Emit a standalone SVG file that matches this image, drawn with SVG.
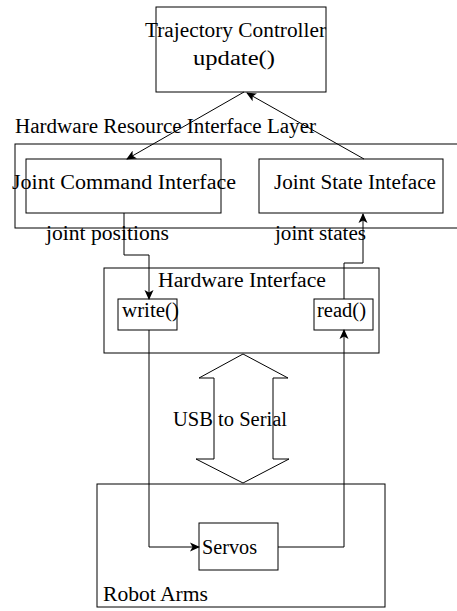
<svg xmlns="http://www.w3.org/2000/svg" width="457" height="611" viewBox="0 0 457 611">
<style>
.box{fill:#fff;stroke:#000;stroke-width:1}
.t{font-family:"Liberation Serif","DejaVu Serif",serif;font-size:20px;fill:#000}
.c{fill:none;stroke:#000;stroke-width:1}
</style>
<defs>
<marker id="ah" viewBox="0 0 10 10" refX="9" refY="5" markerWidth="10" markerHeight="10" markerUnits="userSpaceOnUse" orient="auto">
<path d="M0,0.5 L10,5 L0,9.5 L2.5,5 Z" fill="#000"/>
</marker>
</defs>
<rect width="457" height="611" fill="#fff"/>
<g id="trajectory-controller">
<rect class="box" x="156" y="7" width="170" height="85"/>
<text class="t" x="145" y="37" textLength="181" lengthAdjust="spacingAndGlyphs">Trajectory Controller</text>
<text class="t" x="193" y="65" textLength="82" lengthAdjust="spacingAndGlyphs">update()</text>
</g>
<g id="hardware-resource-layer">
<rect class="box" x="15" y="144" width="450" height="84"/>
<text class="t" x="15" y="133" textLength="301" lengthAdjust="spacingAndGlyphs">Hardware Resource Interface Layer</text>
</g>
<g id="joint-command-interface">
<rect class="box" x="26" y="159" width="195" height="54"/>
<text class="t" x="12" y="189" textLength="224" lengthAdjust="spacingAndGlyphs">Joint Command Interface</text>
</g>
<g id="joint-state-interface">
<rect class="box" x="259" y="159" width="184" height="54"/>
<text class="t" x="274" y="189" textLength="162" lengthAdjust="spacingAndGlyphs">Joint State Inteface</text>
</g>
<g id="hardware-interface">
<rect class="box" x="104" y="268" width="275" height="85"/>
<text class="t" x="158" y="287" textLength="168" lengthAdjust="spacingAndGlyphs">Hardware Interface</text>
</g>
<g id="write">
<rect class="box" x="118" y="299" width="59" height="31"/>
<text class="t" x="122" y="317" textLength="57" lengthAdjust="spacingAndGlyphs">write()</text>
</g>
<g id="read">
<rect class="box" x="314" y="299" width="59" height="31"/>
<text class="t" x="317" y="317" textLength="49" lengthAdjust="spacingAndGlyphs">read()</text>
</g>
<g id="usb-to-serial">
<path class="box" d="M243,354 L288,378 L273,378 L273,459 L289,459 L243,483 L196,459 L214,459 L214,378 L199,378 Z"/>
<text class="t" x="173" y="426" textLength="114" lengthAdjust="spacingAndGlyphs">USB to Serial</text>
</g>
<g id="robot-arms">
<rect class="box" x="97" y="484" width="288" height="123"/>
<text class="t" x="103" y="601" textLength="105" lengthAdjust="spacingAndGlyphs">Robot Arms</text>
</g>
<g id="servos">
<rect class="box" x="199" y="523" width="79" height="47"/>
<text class="t" x="202" y="554" textLength="55" lengthAdjust="spacingAndGlyphs">Servos</text>
</g>
<g id="connectors">
<path class="c" d="M244,92 L127,159" marker-end="url(#ah)"/>
<path class="c" d="M364,159 L247,93" marker-end="url(#ah)"/>
<text class="t" x="46" y="240" textLength="123" lengthAdjust="spacingAndGlyphs">joint positions</text>
<text class="t" x="275" y="240" textLength="91" lengthAdjust="spacingAndGlyphs">joint states</text>
<path class="c" d="M124,213 L124,255 L149,255 L149,299" marker-end="url(#ah)"/>
<path class="c" d="M344,299 L344,263 L363,263 L363,214" marker-end="url(#ah)"/>
<path class="c" d="M149,330 L149,547 L199,547" marker-end="url(#ah)"/>
<path class="c" d="M278,547 L344,547 L344,330" marker-end="url(#ah)"/>
</g>
</svg>
